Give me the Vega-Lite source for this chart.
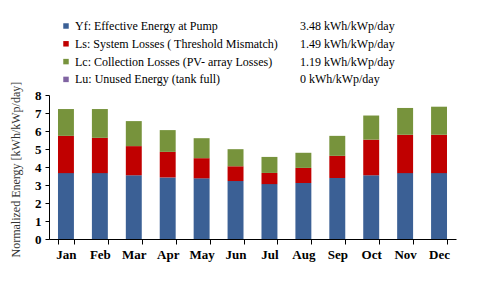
{
  "$schema": "https://vega.github.io/schema/vega-lite/v6.json",
  "width": 407,
  "height": 144,
  "autosize": {"type": "none"},
  "padding": {"left": 49, "top": 95, "right": 27, "bottom": 47},
  "background": "white",
  "config": {
    "view": {"stroke": null},
    "font": "Liberation Serif"
  },
  "data": {
    "values": [
      {"month": "Jan", "Yf": 3.66, "Ls": 2.07, "Lc": 1.49, "Lu": 0},
      {"month": "Feb", "Yf": 3.66, "Ls": 1.96, "Lc": 1.60, "Lu": 0},
      {"month": "Mar", "Yf": 3.54, "Ls": 1.62, "Lc": 1.39, "Lu": 0},
      {"month": "Apr", "Yf": 3.42, "Ls": 1.42, "Lc": 1.21, "Lu": 0},
      {"month": "May", "Yf": 3.37, "Ls": 1.12, "Lc": 1.11, "Lu": 0},
      {"month": "Jun", "Yf": 3.22, "Ls": 0.82, "Lc": 0.95, "Lu": 0},
      {"month": "Jul", "Yf": 3.05, "Ls": 0.62, "Lc": 0.89, "Lu": 0},
      {"month": "Aug", "Yf": 3.11, "Ls": 0.84, "Lc": 0.84, "Lu": 0},
      {"month": "Sep", "Yf": 3.39, "Ls": 1.23, "Lc": 1.11, "Lu": 0},
      {"month": "Oct", "Yf": 3.54, "Ls": 1.98, "Lc": 1.34, "Lu": 0},
      {"month": "Nov", "Yf": 3.66, "Ls": 2.13, "Lc": 1.49, "Lu": 0},
      {"month": "Dec", "Yf": 3.66, "Ls": 2.13, "Lc": 1.56, "Lu": 0}
    ]
  },
  "transform": [
    {"fold": ["Yf", "Ls", "Lc", "Lu"], "as": ["key", "value"]},
    {"lookup": "key", "from": {"data": {"values": [
      {"key": "Yf", "label": "Yf: Effective Energy at Pump", "avg": "3.48 kWh/kWp/day", "ord": 1},
      {"key": "Ls", "label": "Ls: System Losses ( Threshold Mismatch)", "avg": "1.49 kWh/kWp/day", "ord": 2},
      {"key": "Lc", "label": "Lc: Collection Losses (PV- array Losses)", "avg": "1.19 kWh/kWp/day", "ord": 3},
      {"key": "Lu", "label": "Lu: Unused Energy (tank full)", "avg": "0 kWh/kWp/day", "ord": 4}
    ]}, "key": "key", "fields": ["label", "avg", "ord"]}}
  ],
  "layer": [
    {
      "mark": {"type": "bar"},
      "encoding": {
        "x": {
          "field": "month", "type": "ordinal", "sort": null,
          "scale": {"paddingInner": 0.53, "paddingOuter": 0.265},
          "axis": {
            "title": null, "labelAngle": 0, "labelFont": "Liberation Serif", "labelFontSize": 13, "labelFontWeight": "bold",
            "labelColor": "#000", "domainColor": "#000", "tickColor": "#000",
            "tickBand": "extent", "tickSize": 5, "labelPadding": 4
          }
        },
        "y": {
          "field": "value", "type": "quantitative", "stack": "zero",
          "scale": {"domain": [0, 8], "nice": false},
          "axis": {
            "title": "Normalized Energy [kWh/kWp/day]",
            "titleFont": "Liberation Serif", "titleFontSize": 12, "titleFontWeight": "normal",
            "titleColor": "#333", "titleAnchor": "start", "titleAngle": 270,
            "titleX": -34, "titleY": 162, "titleAlign": "left", "titleBaseline": "middle",
            "values": [0,1,2,3,4,5,6,7,8], "grid": false, "labelOverlap": false,
            "labelFont": "Liberation Serif", "labelFontSize": 13, "labelFontWeight": "bold", "labelColor": "#000",
            "domainColor": "#000", "tickColor": "#000", "tickSize": 4, "labelPadding": 4
          }
        },
        "color": {
          "field": "label", "type": "nominal",
          "scale": {
            "domain": ["Yf: Effective Energy at Pump", "Ls: System Losses ( Threshold Mismatch)", "Lc: Collection Losses (PV- array Losses)", "Lu: Unused Energy (tank full)"],
            "range": ["#3B6095", "#C00000", "#77933C", "#8064A2"]
          },
          "legend": {
            "orient": "none", "legendX": 11, "legendY": -75, "title": null,
            "symbolType": "square", "symbolSize": 30, "symbolStrokeWidth": 0,
            "labelFont": "Liberation Serif", "labelFontSize": 12, "labelColor": "#000", "labelOffset": 3, "rowPadding": 5.8,
            "labelLimit": 300
          }
        },
        "order": {"field": "ord", "type": "quantitative"}
      }
    },
    {
      "mark": {"type": "point", "opacity": 0},
      "encoding": {
        "shape": {
          "field": "avg", "type": "nominal",
          "scale": {"domain": ["3.48 kWh/kWp/day", "1.49 kWh/kWp/day", "1.19 kWh/kWp/day", "0 kWh/kWp/day"]},
          "legend": {
            "orient": "none", "legendX": 239, "legendY": -75, "title": null,
            "symbolOpacity": 0, "symbolSize": 30,
            "labelFont": "Liberation Serif", "labelFontSize": 12, "labelColor": "#000", "labelOffset": 0, "rowPadding": 5.8,
            "labelLimit": 300
          }
        }
      }
    }
  ]
}
